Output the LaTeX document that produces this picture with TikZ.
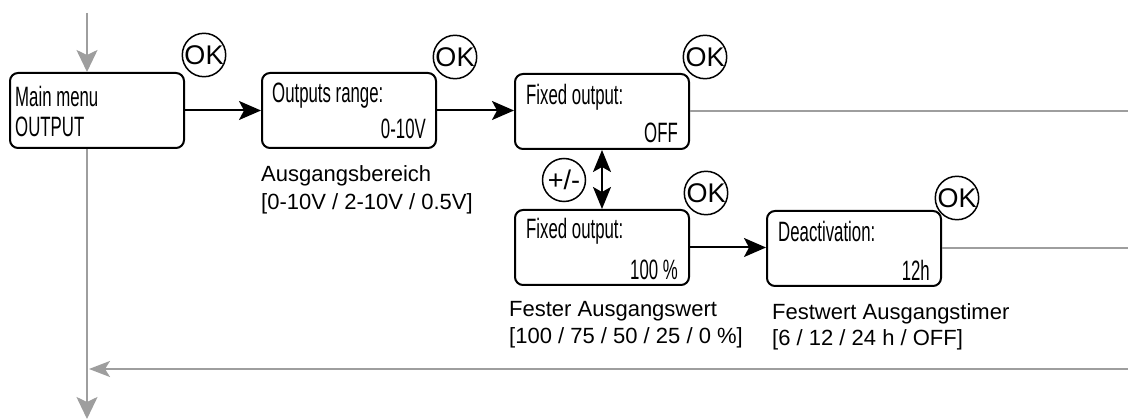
\documentclass[tikz,border=0pt]{standalone}
\usepackage{fontspec}
\setmainfont{Liberation Sans}
\newfontfamily\narrowfont{Liberation Sans}[FakeStretch=0.6]
\usetikzlibrary{arrows.meta,calc}
\definecolor{flowgray}{RGB}{158,158,158}
\begin{document}
\begin{tikzpicture}[x=1pt,y=-1pt,
  menubox/.style={draw=black, line width=2pt, rounded corners=8pt, minimum width=174pt, minimum height=75pt, inner sep=0pt, anchor=north west},
  boxtext/.style={font=\narrowfont\fontsize{28}{32}\selectfont, inner sep=0pt},
  note/.style={font=\fontsize{22}{26}\selectfont, inner sep=0pt, anchor=base west},
  okbtn/.style={circle, draw=black, line width=1.5pt, minimum size=43pt, inner sep=0pt, font=\fontsize{27}{30}\selectfont},
  blacktip/.style={-{Stealth[length=22pt,width=19pt,inset=5pt]}},
  flow/.style={black, line width=2pt, blacktip},
  dflow/.style={black, line width=2pt, {Stealth[length=22pt,width=18pt,inset=5pt]}-{Stealth[length=22pt,width=18pt,inset=5pt]}},
  back/.style={flowgray, line width=2pt},
  backtip/.style={-{Stealth[length=22pt,width=21pt,inset=5pt]}},
]
\useasboundingbox (0,0) rectangle (1128,419);

% boxes
\node[menubox] (b1) at (9,72) {};
\node[menubox] (b2) at (261,72) {};
\node[menubox] (b3) at (514,73) {};
\node[menubox] (b4) at (514,209) {};
\node[menubox] (b5) at (766,210) {};

% box texts
\node[boxtext, anchor=base west] (t1a) at ($(b1.north west)+(6,35)$) {Main menu};
\node[boxtext, anchor=base west] (t1b) at ($(b1.north west)+(6,65)$) {OUTPUT};
\node[boxtext, anchor=base west] (t2a) at ($(b2.north west)+(11,31)$) {Outputs range:};
\node[boxtext, anchor=base east] (t2b) at ($(b2.south east)+(-11,-10)$) {0-10V};
\node[boxtext, anchor=base west] (t3a) at ($(b3.north west)+(12,32)$) {Fixed output:};
\node[boxtext, anchor=base east] (t3b) at ($(b3.south east)+(-12,-7)$) {OFF};
\node[boxtext, anchor=base west] (t4a) at ($(b4.north west)+(12,30)$) {Fixed output:};
\node[boxtext, anchor=base east] (t4b) at ($(b4.south east)+(-12,-6)$) {100 \%};
\node[boxtext, anchor=base west] (t5a) at ($(b5.north west)+(12,32)$) {Deactivation:};
\node[boxtext, anchor=base east] (t5b) at ($(b5.south east)+(-12,-6)$) {12h};

% OK buttons
\node[okbtn] (ok1) at (204,55) {OK};
\node[okbtn] (ok2) at (455,57) {OK};
\node[okbtn] (ok3) at (705,57) {OK};
\node[okbtn] (ok4) at (706,193) {OK};
\node[okbtn] (ok5) at (957,198) {OK};
\node[okbtn] (pm) at (564,180) {+/-};

% notes
\node[note] (n2a) at (261,182) {Ausgangsbereich};
\node[note] (n2b) at (261,210) {[0-10V / 2-10V / 0.5V]};
\node[note] (n4a) at (509,317) {Fester Ausgangswert};
\node[note] (n4b) at (509,344) {[100 / 75 / 50 / 25 / 0 \%]};
\node[note] (n5a) at (772,320) {Festwert Ausgangstimer};
\node[note] (n5b) at (772,346) {[6 / 12 / 24 h / OFF]};

% black connectors
\draw[flow] (b1.east) -- (b1.east -| b2.west);
\draw[flow] (b2.east) -- (b2.east -| b3.west);
\draw[dflow] (b3.south) -- (b4.north);
\draw[flow] (b4.east) -- (b4.east -| b5.west);

% gray connectors
\coordinate (in) at (87,13);
\coordinate (out) at (87,419);
\coordinate (r3) at (1128,112);
\coordinate (r5) at (1128,250);
\coordinate (ret) at (1128,369);
\draw[back, backtip] (in) -- (in |- b1.north);
\draw[back, backtip] (in |- b1.south) -- (out);
\draw[back] (b3.east) -- (b3.east -| r3);
\draw[back] (b5.east) -- (b5.east -| r5);
\draw[back, -{Stealth[length=21pt,width=16pt,inset=5pt]}] (ret) -- ($(in |- ret)+(2,0)$);
\end{tikzpicture}
\end{document}
